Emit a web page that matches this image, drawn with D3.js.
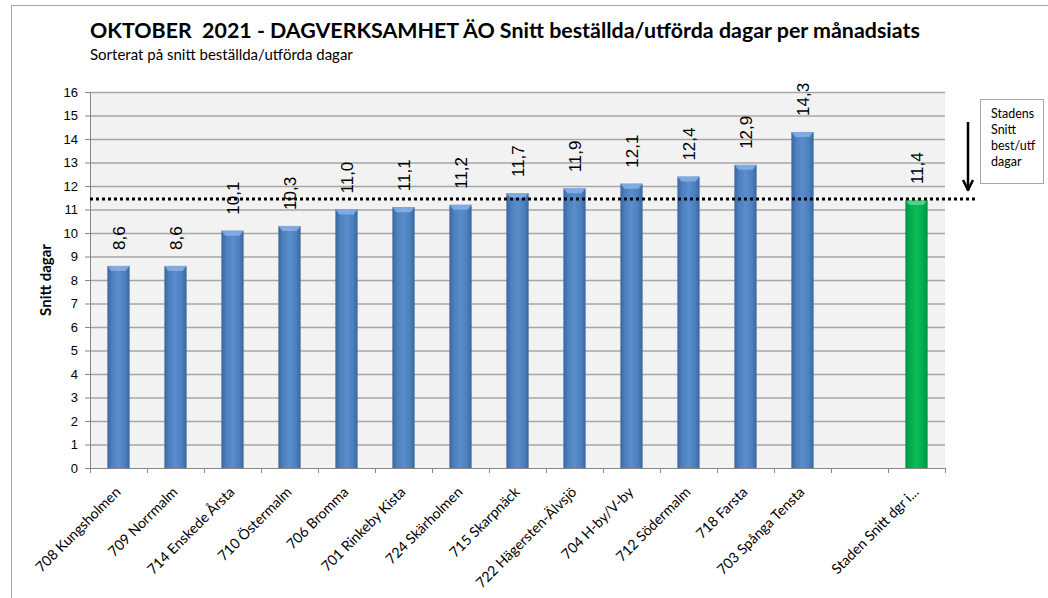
<!DOCTYPE html>
<html>
<head>
<meta charset="utf-8">
<script src="https://cdn.jsdelivr.net/npm/d3@7"></script>
<style>
  body { margin: 0; background: #fff; }
  svg { display: block; }
</style>
</head>
<body>
<div id="chart"></div>
<script>
// data
const districts = ["708 Kungsholmen", "709 Norrmalm", "714 Enskede Årsta", "710 Östermalm", "706 Bromma",
  "701 Rinkeby Kista", "724 Skärholmen", "715 Skarpnäck", "722 Hägersten-Älvsjö", "704 H-by/V-by",
  "712 Södermalm", "718 Farsta", "703 Spånga Tensta", "", "Staden Snitt dgr i..."]
const avgDays = [8.6, 8.6, 10.1, 10.3, 11.0, 11.1, 11.2, 11.7, 11.9, 12.1, 12.4, 12.9, 14.3, null, 11.4]
const cityLine = 11.45
const yTicks = d3.range(0, 17)
const legendLines = ["Stadens", "Snitt", "best/utf", "dagar"]

const width = 1048, height = 598
const m = {left: 90, right: 103, top: 92, bottom: 130}

const svg = d3.select("#chart").append("svg")
  .attr("width", width).attr("height", height)

const defs = svg.append("defs")
function barGrad(id, edge, mid, center) {
  const g = defs.append("linearGradient").attr("id", id).attr("x1", "0").attr("x2", "1").attr("y1", "0").attr("y2", "0")
  g.append("stop").attr("offset", "0%").attr("stop-color", edge)
  g.append("stop").attr("offset", "20%").attr("stop-color", mid)
  g.append("stop").attr("offset", "50%").attr("stop-color", center)
  g.append("stop").attr("offset", "80%").attr("stop-color", mid)
  g.append("stop").attr("offset", "100%").attr("stop-color", edge)
}
barGrad("blue", "#3a659c", "#4d7fbd", "#5a8dcc")
barGrad("green", "#00913f", "#00ac4c", "#0cbc58")

// outer border
svg.append("rect").attr("x", 11.5).attr("y", 5.5).attr("width", 1100).attr("height", 700)
  .attr("fill", "none").attr("stroke", "#a6a6a6")

const x = d3.scaleBand().domain(d3.range(districts.length))
  .range([m.left, width - m.right]).paddingInner(0.61).paddingOuter(0.305)
const y = d3.scaleLinear().domain([0, 16]).range([height - m.bottom, m.top])

const plotW = width - m.right - m.left
svg.append("rect").attr("x", m.left).attr("y", y(16)).attr("width", plotW).attr("height", y(0) - y(16))
  .attr("fill", "#f2f2f2")

// gridlines
svg.append("g").selectAll("line").data(yTicks.slice(1)).join("line")
  .attr("x1", m.left).attr("x2", m.left + plotW)
  .attr("y1", d => y(d) + 0.5).attr("y2", d => y(d) + 0.5)
  .attr("stroke", "#a6a6a6").attr("stroke-width", 1.3)

// y axis
const yAxis = svg.append("g").attr("transform", `translate(${m.left},0)`)
  .call(d3.axisLeft(y).tickValues(yTicks).tickSize(5).tickPadding(7))
yAxis.select(".domain").attr("stroke", "#868686")
yAxis.selectAll(".tick line").attr("stroke", "#868686")
yAxis.selectAll(".tick text").attr("font-family", "Liberation Sans, Arial, sans-serif")
  .attr("font-size", 13).attr("fill", "#000")

// x axis with ticks at category boundaries
const step = x.step()
svg.append("line").attr("x1", m.left).attr("x2", m.left + plotW)
  .attr("y1", y(0) + 0.5).attr("y2", y(0) + 0.5).attr("stroke", "#868686")
svg.append("g").selectAll("line").data(d3.range(districts.length + 1)).join("line")
  .attr("x1", i => m.left + i * step + 0.5).attr("x2", i => m.left + i * step + 0.5)
  .attr("y1", y(0)).attr("y2", y(0) + 5).attr("stroke", "#868686")

svg.append("g").selectAll("text").data(districts).join("text")
  .attr("transform", (d, i) => `translate(${x(i) + x.bandwidth() / 2 + 3},${y(0) + 25}) rotate(-45)`)
  .attr("text-anchor", "end")
  .attr("font-family", "Lato, Open Sans, sans-serif").attr("font-size", 14.2).attr("fill", "#000")
  .text(d => d)

// bars
const bars = districts.map((d, i) => ({i, v: avgDays[i]})).filter(d => d.v != null)
const barG = svg.append("g")
barG.selectAll("rect.bar").data(bars).join("rect").attr("class", "bar")
  .attr("x", d => x(d.i)).attr("width", x.bandwidth())
  .attr("y", d => y(d.v)).attr("height", d => y(0) - y(d.v))
  .attr("fill", d => d.i === districts.length - 1 ? "url(#green)" : "url(#blue)")
barG.selectAll("path.bevel").data(bars).join("path").attr("class", "bevel")
  .attr("d", d => {
    const x0 = x(d.i), x1 = x0 + x.bandwidth(), t = y(d.v)
    return `M${x0},${t}L${x1},${t}L${x1 - 4},${t + 5}L${x0 + 4},${t + 5}Z`
  })
  .attr("fill", d => d.i === districts.length - 1 ? "#5fdc93" : "#8ab4e8").attr("opacity", 0.8)

// value labels
svg.append("g").selectAll("text").data(bars).join("text")
  .attr("transform", d => `translate(${x(d.i) + x.bandwidth() / 2},${y(d.v) - 16}) rotate(-90)`)
  .attr("dy", "0.36em")
  .attr("font-family", "Liberation Sans, Arial, sans-serif").attr("font-size", 17).attr("fill", "#000")
  .text(d => d3.format(".1f")(d.v).replace(".", ","))

// dotted city average line
svg.append("line").attr("x1", m.left).attr("x2", 977)
  .attr("y1", y(cityLine)).attr("y2", y(cityLine))
  .attr("stroke", "#000").attr("stroke-width", 3).attr("stroke-dasharray", "3,3")

// arrow
defs.append("marker").attr("id", "head").attr("viewBox", "0 0 12 12")
  .attr("refX", 11).attr("refY", 6).attr("markerWidth", 12).attr("markerHeight", 12)
  .attr("orient", "auto").attr("markerUnits", "userSpaceOnUse")
  .append("path").attr("d", "M1,1L11,6L1,11").attr("fill", "none").attr("stroke", "#000").attr("stroke-width", 2.5)
svg.append("line").attr("x1", 968).attr("x2", 968).attr("y1", 122).attr("y2", 190)
  .attr("stroke", "#000").attr("stroke-width", 2.5).attr("marker-end", "url(#head)")

// legend box
svg.append("rect").attr("x", 980.5).attr("y", 99.5).attr("width", 63).attr("height", 84)
  .attr("fill", "#fff").attr("stroke", "#a6a6a6")
svg.append("g").selectAll("text").data(legendLines).join("text")
  .attr("x", 991).attr("y", (d, i) => 118 + i * 16)
  .attr("font-family", "Lato, Open Sans, sans-serif").attr("font-size", 12.5).attr("fill", "#000")
  .text(d => d)

// titles
svg.append("text").attr("x", 90).attr("y", 38).style("white-space", "pre")
  .attr("font-family", "Lato, Open Sans, sans-serif").attr("font-weight", "bold").attr("font-size", 21.4)
  .text("OKTOBER  2021 - DAGVERKSAMHET ÄO Snitt beställda/utförda dagar per månadsiats")
svg.append("text").attr("x", 90).attr("y", 60)
  .attr("font-family", "Lato, Open Sans, sans-serif").attr("font-size", 15)
  .text("Sorterat på snitt beställda/utförda dagar")

svg.append("text").attr("transform", `translate(51,${(y(0) + y(16)) / 2}) rotate(-90)`)
  .attr("text-anchor", "middle")
  .attr("font-family", "Lato, Open Sans, sans-serif").attr("font-weight", "bold").attr("font-size", 15)
  .text("Snitt dagar")
</script>
</body>
</html>
